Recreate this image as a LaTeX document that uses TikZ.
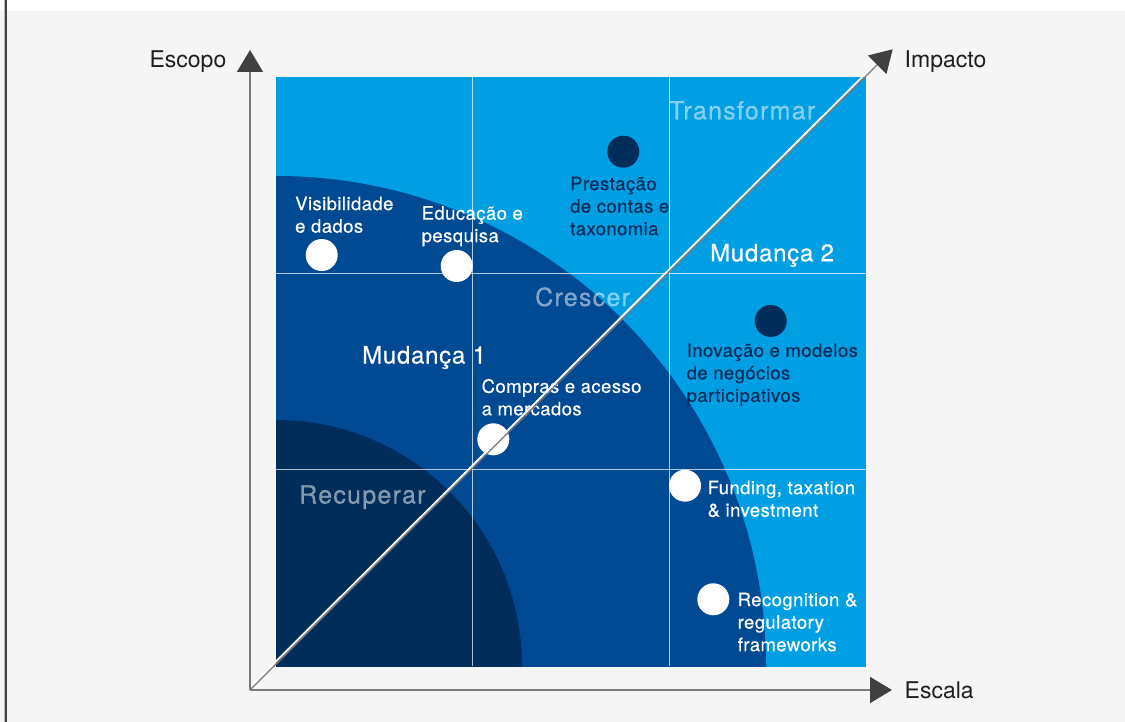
\documentclass[tikz,border=0pt]{standalone}
\usepackage{fontspec}
\setmainfont{TeX Gyre Heros}
\newfontfamily\smallfam[LetterSpace=2.3,FakeBold=0.4]{TeX Gyre Heros}
\newfontfamily\mudfam[LetterSpace=3,FakeBold=0.4]{TeX Gyre Heros}
\newfontfamily\phasefam[LetterSpace=5,FakeBold=0.4]{TeX Gyre Heros}
\usetikzlibrary{arrows.meta,calc}
\definecolor{bg}{HTML}{F5F5F5}
\definecolor{lightblue}{HTML}{009FE3}
\definecolor{midblue}{HTML}{004A93}
\definecolor{navy}{HTML}{012D5A}
\definecolor{axisgray}{HTML}{7A7A7A}
\definecolor{tipgray}{HTML}{404040}
\definecolor{labelink}{HTML}{1E1E1E}
\definecolor{darkink}{HTML}{0B2D5B}
\tikzset{
  axisline/.style={draw=axisgray, line width=1.3pt, -{Triangle[length=22pt,width=26pt,color=tipgray]}},
  gridline/.style={draw=white, draw opacity=0.7, line width=1.2pt},
  wdot/.style={circle, fill=white, minimum size=32pt, inner sep=0pt},
  ndot/.style={circle, fill=navy, minimum size=32pt, inner sep=0pt},
  smalltxt/.style={anchor=north west, inner sep=0pt, align=left, font=\smallfam\fontsize{18.5}{22.5}\selectfont},
  wtxt/.style={smalltxt, text=white},
  ntxt/.style={smalltxt, text=darkink},
  phaselbl/.style={anchor=base west, inner sep=0pt, text=white, text opacity=0.5, font=\phasefam\fontsize{25}{30}\selectfont},
  mudlbl/.style={anchor=base west, inner sep=0pt, text=white, font=\mudfam\fontsize{24}{28}\selectfont},
  axislabel/.style={inner sep=0pt, text=labelink, font=\fontsize{23}{28}\selectfont}
}
\begin{document}
\begin{tikzpicture}[x=1pt,y=-1pt]
\useasboundingbox (0,0) rectangle (1125,722);
% background
\fill[bg] (0,0) rectangle (1125,722);
\fill[white] (0,0) rectangle (1125,10.7);
\fill[gray!55] (4,0) rectangle (5,722);
\fill[tipgray] (5,0) rectangle (7.3,722);
% square and regions
\fill[lightblue] (276,77) rectangle (866,667);
\begin{scope}
  \clip (276,77) rectangle (866,666);
  \fill[midblue] (276,666) circle[radius=490pt];
  \fill[navy] (276,666) circle[radius=246pt];
\end{scope}
% grid
\draw[gridline] (472.7,77) -- (472.7,666);
\draw[gridline] (669.3,77) -- (669.3,666);
\draw[gridline] (276,273.3) -- (866,273.3);
\draw[gridline] (276,469.7) -- (866,469.7);
% phase labels
\node[phaselbl] (transformar) at (669,119.3) {Transformar};
\node[phaselbl] (crescer) at (535,306) {Crescer};
\node[phaselbl] (recuperar) at (299,503.5) {Recuperar};
\node[mudlbl] (mud1) at (362,363.5) {Mudança 1};
\node[mudlbl] (mud2) at (710,261.3) {Mudança 2};
% dots
\node[wdot] (dvis) at (321.7,255) {};
\node[wdot] (dedu) at (456.7,266) {};
\node[wdot] (dcom) at (493.3,439.3) {};
\node[wdot] (dfun) at (685,485.7) {};
\node[wdot] (drec) at (713.3,599.3) {};
\node[ndot] (dpre) at (623.3,151.7) {};
\node[ndot] (dino) at (770.7,321) {};
% dot labels
\node[wtxt] (tvis) at (295,196.5) {Visibilidade\\e dados};
\node[wtxt] (tedu) at (421.5,206) {Educação e\\pesquisa};
\node[ntxt] (tpre) at (570,176.5) {Prestação\\de contas e\\taxonomia};
\node[ntxt] (tino) at (686.5,343.2) {Inovação e modelos\\de negócios\\participativos};
\node[wtxt] (tcom) at (481.5,378.8) {Compras e acesso\\a mercados};
\node[wtxt] (tfun) at (707.5,480.5) {Funding, taxation\\\& investment};
\node[wtxt] (trec) at (737.5,592.5) {Recognition \&\\regulatory\\frameworks};
% axes
\coordinate (O) at (250,690);
\coordinate (Ytip) at (250,50);
\coordinate (Xtip) at (892,690);
\coordinate (Dtip) at (892.7,49.3);
\coordinate (Dw1) at ($(O)+(-1.35pt,1.35pt)$);
\coordinate (Dw2) at ($(O)!0.965!(Dtip)+(-1.35pt,1.35pt)$);
\draw[white, line width=1.9pt] (Dw1) -- (Dw2);
\draw[axisline] (O) -- (Dtip);
\draw[axisline] (O) -- (Ytip);
\draw[axisline] (O) -- (Xtip);
\node[axislabel, anchor=base east] (escopo) at (226.5,68) {Escopo};
\node[axislabel, anchor=base west] (impacto) at (904.5,68) {Impacto};
\node[axislabel, anchor=base west] (escala) at (904.5,698) {Escala};
\end{tikzpicture}
\end{document}
